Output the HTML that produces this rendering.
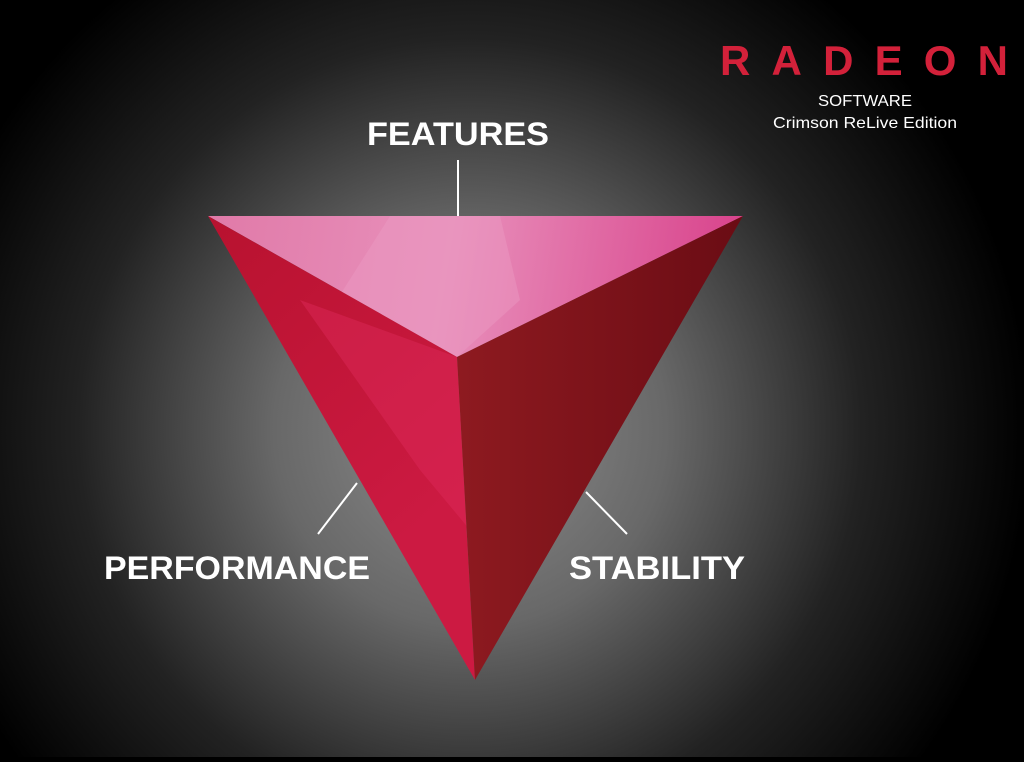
<!DOCTYPE html>
<html><head><meta charset="utf-8"><style>
html,body{margin:0;padding:0;background:#000;}
body{width:1024px;height:757px;overflow:hidden;}
</style></head><body>
<svg width="1024" height="757" viewBox="0 0 1024 757" xmlns="http://www.w3.org/2000/svg">
<defs>
<radialGradient id="bg" cx="470" cy="430" r="560" gradientUnits="userSpaceOnUse">
<stop offset="0" stop-color="#8e8e8e"/>
<stop offset="0.35" stop-color="#686868"/>
<stop offset="0.7" stop-color="#222"/>
<stop offset="1" stop-color="#000"/>
</radialGradient>
<linearGradient id="top" x1="208" y1="216" x2="743" y2="300" gradientUnits="userSpaceOnUse">
<stop offset="0" stop-color="#e07aa8"/>
<stop offset="0.45" stop-color="#e890bb"/>
<stop offset="1" stop-color="#d8408a"/>
</linearGradient>
<linearGradient id="left" x1="208" y1="216" x2="457" y2="500" gradientUnits="userSpaceOnUse">
<stop offset="0" stop-color="#b8122f"/>
<stop offset="1" stop-color="#cc1a42"/>
</linearGradient>
<linearGradient id="right" x1="457" y1="400" x2="743" y2="400" gradientUnits="userSpaceOnUse">
<stop offset="0" stop-color="#8e1a20"/>
<stop offset="1" stop-color="#6a0c14"/>
</linearGradient>
</defs>
<rect width="1024" height="757" fill="url(#bg)"/>
<line x1="458" y1="160" x2="458" y2="216" stroke="#fff" stroke-width="2"/>
<line x1="357" y1="483" x2="318" y2="534" stroke="#fff" stroke-width="2"/>
<line x1="586" y1="492" x2="627" y2="534" stroke="#fff" stroke-width="2"/>
<polygon points="208,216 743,216 457,357" fill="url(#top)"/>
<polygon points="390,216 500,216 520,300 457,357 340,295" fill="#ea9cc4" opacity="0.45"/>
<polygon points="208,216 457,357 475,680" fill="url(#left)"/>
<polygon points="300,300 457,357 470,530 420,470" fill="#de2a5c" opacity="0.45"/>
<polygon points="743,216 457,357 475,680" fill="url(#right)"/>
<text x="367" y="145" textLength="182" lengthAdjust="spacingAndGlyphs" font-family="Liberation Sans, sans-serif" font-weight="bold" font-size="32" fill="#fff">FEATURES</text>
<text x="104" y="579" textLength="266" lengthAdjust="spacingAndGlyphs" font-family="Liberation Sans, sans-serif" font-weight="bold" font-size="32" fill="#fff">PERFORMANCE</text>
<text x="569" y="579" textLength="176" lengthAdjust="spacingAndGlyphs" font-family="Liberation Sans, sans-serif" font-weight="bold" font-size="32" fill="#fff">STABILITY</text>
<text x="720" y="75" textLength="288" lengthAdjust="spacing" font-family="Liberation Sans, sans-serif" font-weight="bold" font-size="42" fill="#d3213a">RADEON</text>
<text x="818" y="106" textLength="94" lengthAdjust="spacingAndGlyphs" font-family="Liberation Sans, sans-serif" font-size="16" fill="#fff">SOFTWARE</text>
<text x="773" y="128" textLength="184" lengthAdjust="spacingAndGlyphs" font-family="Liberation Sans, sans-serif" font-size="16" fill="#fff">Crimson ReLive Edition</text>
</svg>
</body></html>
